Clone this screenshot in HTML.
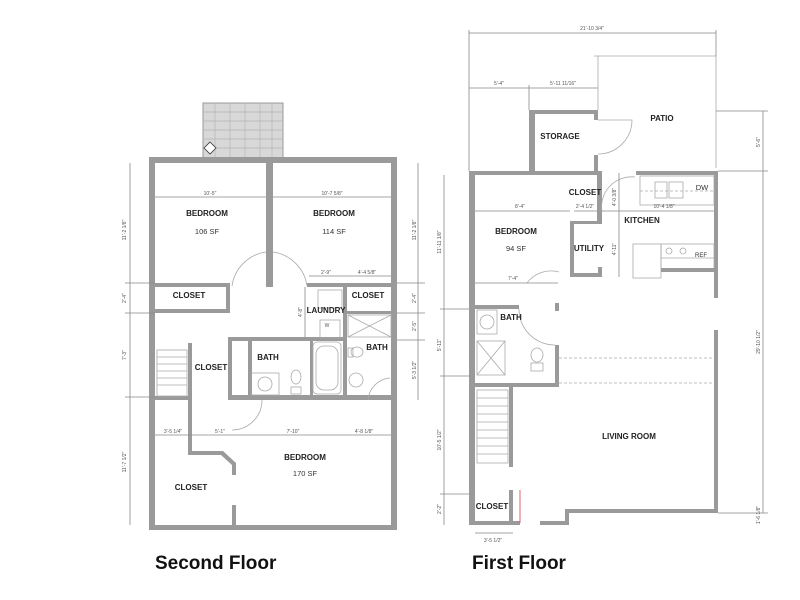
<!DOCTYPE html>
<html><head><style>
html,body{margin:0;padding:0;background:#fff;}
svg{display:block;}
.w{fill:#9a9a9a;}
.d{stroke:#888;stroke-width:0.8;fill:none;}
.t{font-family:"Liberation Sans",sans-serif;font-weight:bold;font-size:8px;fill:#222;text-anchor:middle;}
.s{font-family:"Liberation Sans",sans-serif;font-size:7.5px;fill:#333;text-anchor:middle;}
.m{font-family:"Liberation Sans",sans-serif;font-size:5px;fill:#555;text-anchor:middle;}
.th{stroke:#aaa;stroke-width:0.8;fill:none;}
</style></head><body>
<svg width="800" height="600" viewBox="0 0 800 600">
<!-- SECOND FLOOR -->
<rect x="203" y="103" width="80" height="57" fill="#d8d8d8" stroke="#999"/>
<g stroke="#b5b5b5" stroke-width="0.7">
<line x1="203" y1="112" x2="283" y2="112"/><line x1="203" y1="121" x2="283" y2="121"/><line x1="203" y1="130" x2="283" y2="130"/><line x1="203" y1="139" x2="283" y2="139"/><line x1="203" y1="148" x2="283" y2="148"/>
<line x1="215" y1="103" x2="215" y2="160"/><line x1="230" y1="103" x2="230" y2="160"/><line x1="245" y1="103" x2="245" y2="160"/><line x1="260" y1="103" x2="260" y2="160"/><line x1="272" y1="103" x2="272" y2="160"/>
</g>
<polygon points="210,142 216,148 210,154 204,148" fill="#fff" stroke="#333" stroke-width="0.8"/>
<rect class="w" x="149" y="157" width="248" height="6"/>
<rect class="w" x="149" y="157" width="6" height="373"/>
<rect class="w" x="391" y="157" width="6" height="373"/>
<rect class="w" x="149" y="525" width="248" height="5"/>
<rect class="w" x="266" y="160" width="7" height="127"/>
<rect class="w" x="155" y="283" width="75" height="4"/>
<rect class="w" x="155" y="309" width="75" height="4"/>
<rect class="w" x="226" y="283" width="4" height="30"/>
<rect class="w" x="307" y="283" width="90" height="4"/>
<rect class="w" x="343" y="283" width="4" height="117"/>
<rect class="w" x="347" y="311" width="44" height="3"/>
<rect class="w" x="228" y="337" width="119" height="4"/>
<rect class="w" x="228" y="337" width="4" height="63"/>
<rect class="w" x="248" y="337" width="4" height="63"/>
<rect class="w" x="310" y="341" width="3" height="57"/>
<rect class="w" x="228" y="395" width="169" height="5"/>
<rect class="w" x="188" y="343" width="4" height="57"/>
<rect class="w" x="155" y="396" width="37" height="4"/>
<rect class="w" x="188" y="400" width="4" height="55"/>
<polygon class="w" points="188,451 223,451 236,463 236,475 232,475 232,465 221,455 192,455"/>
<rect class="w" x="232" y="505" width="4" height="20"/>
<g class="th"><rect x="157" y="350" width="30" height="46"/><line x1="157" y1="357" x2="187" y2="357"/><line x1="157" y1="364" x2="187" y2="364"/><line x1="157" y1="371" x2="187" y2="371"/><line x1="157" y1="378" x2="187" y2="378"/><line x1="157" y1="385" x2="187" y2="385"/></g>
<path class="th" d="M232 286 A40 40 0 0 1 266 252"/><path class="th" d="M273 252 A40 40 0 0 1 307 286"/>
<path class="th" d="M232 430 A30 30 0 0 0 262 400"/>
<g class="th">
<rect x="251" y="373" width="28" height="22"/><circle cx="265" cy="384" r="7"/>
<ellipse cx="296" cy="377" rx="5" ry="7"/><rect x="291" y="387" width="10" height="7"/>
<rect x="313" y="342" width="28" height="52" rx="4"/><rect x="316" y="346" width="22" height="44" rx="8"/>
<rect x="318" y="290" width="24" height="18"/><rect x="320" y="320" width="20" height="18"/>
<rect x="348" y="315" width="43" height="22"/><line x1="348" y1="315" x2="391" y2="337"/><line x1="391" y1="315" x2="348" y2="337"/>
<ellipse cx="357" cy="352" rx="6" ry="5"/><rect x="348" y="348" width="5" height="9"/>
<circle cx="356" cy="380" r="7"/><path d="M368 400 A24 24 0 0 1 390 378"/>
</g>
<text class="m" x="327" y="327">W</text>
<g class="d">
<line x1="155" y1="197" x2="266" y2="197"/><line x1="273" y1="197" x2="391" y2="197"/>
<line x1="309" y1="276" x2="343" y2="276"/><line x1="343" y1="276" x2="391" y2="276"/>
<line x1="155" y1="435" x2="192" y2="435"/><line x1="192" y1="435" x2="250" y2="435"/><line x1="250" y1="435" x2="339" y2="435"/><line x1="339" y1="435" x2="391" y2="435"/>
<line x1="130" y1="163" x2="130" y2="525"/><line x1="125" y1="283" x2="155" y2="283"/><line x1="125" y1="313" x2="155" y2="313"/><line x1="125" y1="397" x2="155" y2="397"/>
<line x1="418" y1="163" x2="418" y2="400"/><line x1="397" y1="283" x2="425" y2="283"/><line x1="397" y1="313" x2="425" y2="313"/><line x1="397" y1="340" x2="425" y2="340"/>
<line x1="305" y1="287" x2="305" y2="337"/>
</g>
<text class="m" x="210" y="195">10'-5"</text><text class="m" x="332" y="195">10'-7 5/8"</text>
<text class="m" x="326" y="274">2'-9"</text><text class="m" x="367" y="274">4'-4 5/8"</text>
<text class="m" x="173" y="433">3'-5 1/4"</text><text class="m" x="220" y="433">5'-1"</text><text class="m" x="293" y="433">7'-10"</text><text class="m" x="364" y="433">4'-8 1/8"</text>
<text class="m" transform="translate(126,230) rotate(-90)">11'-2 1/8"</text>
<text class="m" transform="translate(126,298) rotate(-90)">2'-4"</text>
<text class="m" transform="translate(126,355) rotate(-90)">7'-3"</text>
<text class="m" transform="translate(126,462) rotate(-90)">11'-7 1/2"</text>
<text class="m" transform="translate(416,230) rotate(-90)">11'-2 1/8"</text>
<text class="m" transform="translate(416,298) rotate(-90)">2'-4"</text>
<text class="m" transform="translate(416,326) rotate(-90)">2'-5"</text>
<text class="m" transform="translate(416,370) rotate(-90)">5'-3 1/2"</text>
<text class="m" transform="translate(302,312) rotate(-90)">4'-8"</text>
<text class="t" x="207" y="216">BEDROOM</text><text class="s" x="207" y="234">106 SF</text>
<text class="t" x="334" y="216">BEDROOM</text><text class="s" x="334" y="234">114 SF</text>
<text class="t" x="189" y="298">CLOSET</text><text class="t" x="368" y="298">CLOSET</text>
<text class="t" x="326" y="313">LAUNDRY</text><text class="t" x="377" y="350">BATH</text>
<text class="t" x="268" y="360">BATH</text><text class="t" x="211" y="370">CLOSET</text>
<text class="t" x="305" y="460">BEDROOM</text><text class="s" x="305" y="476">170 SF</text>
<text class="t" x="191" y="490">CLOSET</text>

<!-- FIRST FLOOR -->
<g class="th"><line x1="594" y1="56" x2="716" y2="56"/><line x1="716" y1="56" x2="716" y2="168"/><line x1="598" y1="56" x2="598" y2="110"/></g>
<rect class="w" x="469" y="171" width="6" height="354"/>
<rect class="w" x="469" y="171" width="133" height="4"/>
<rect class="w" x="636" y="171" width="82" height="4"/>
<rect class="w" x="714" y="171" width="4" height="127"/>
<rect class="w" x="714" y="330" width="4" height="183"/>
<rect class="w" x="565" y="509" width="153" height="4"/>
<rect class="w" x="565" y="509" width="4" height="16"/>
<rect class="w" x="540" y="521" width="29" height="4"/>
<rect class="w" x="469" y="521" width="51" height="4"/>
<line x1="520" y1="490" x2="520" y2="523" stroke="#e06070" stroke-width="1"/>
<rect class="w" x="529" y="110" width="6" height="63"/>
<rect class="w" x="529" y="110" width="69" height="4"/>
<rect class="w" x="594" y="110" width="4" height="10"/>
<rect class="w" x="594" y="155" width="4" height="18"/>
<path class="th" d="M598 120 L632 120 A34 34 0 0 1 598 154"/>
<rect class="w" x="597" y="171" width="5" height="53"/>
<rect class="w" x="570" y="221" width="32" height="3"/>
<rect class="w" x="570" y="221" width="4" height="56"/>
<rect class="w" x="570" y="273" width="32" height="4"/>
<rect class="w" x="598" y="267" width="4" height="10"/>
<rect class="w" x="475" y="305" width="44" height="4"/>
<rect class="w" x="555" y="303" width="4" height="8"/>
<rect class="w" x="555" y="345" width="4" height="42"/>
<rect class="w" x="475" y="383" width="84" height="4"/>
<rect class="w" x="509" y="387" width="4" height="80"/>
<rect class="w" x="509" y="490" width="4" height="31"/>
<g class="th"><rect x="477" y="390" width="31" height="73"/><line x1="477" y1="398" x2="508" y2="398"/><line x1="477" y1="406" x2="508" y2="406"/><line x1="477" y1="414" x2="508" y2="414"/><line x1="477" y1="422" x2="508" y2="422"/><line x1="477" y1="430" x2="508" y2="430"/><line x1="477" y1="438" x2="508" y2="438"/><line x1="477" y1="446" x2="508" y2="446"/><line x1="477" y1="454" x2="508" y2="454"/></g>
<g class="th">
<circle cx="487" cy="322" r="7"/><rect x="477" y="310" width="20" height="24"/>
<rect x="477" y="341" width="28" height="34"/><line x1="477" y1="341" x2="505" y2="375"/><line x1="505" y1="341" x2="477" y2="375"/>
<ellipse cx="537" cy="355" rx="6" ry="7"/><rect x="531" y="363" width="12" height="8"/>
<path d="M519 309 A36 36 0 0 0 555 345"/>
<path d="M527 283 A30 30 0 0 1 559 272"/>
</g>
<g class="th">
<rect x="640" y="176" width="74" height="29"/>
<rect x="655" y="182" width="12" height="16"/><rect x="669" y="182" width="14" height="16"/>
<rect x="633" y="244" width="28" height="34"/>
<rect x="661" y="244" width="53" height="26"/><circle cx="669" cy="251" r="3"/><circle cx="683" cy="251" r="3"/>
<line x1="661" y1="258" x2="714" y2="258"/>
<path d="M602 212 A30 30 0 0 1 635 177"/>
</g>
<rect class="w" x="661" y="268" width="57" height="4"/>
<g class="th" stroke-dasharray="3,2"><line x1="559" y1="358" x2="714" y2="358"/><line x1="559" y1="383" x2="714" y2="383"/><line x1="640" y1="191" x2="714" y2="191"/></g>
<g class="d">
<line x1="469" y1="33" x2="716" y2="33"/><line x1="469" y1="30" x2="469" y2="171"/><line x1="716" y1="30" x2="716" y2="56"/>
<line x1="469" y1="88" x2="529" y2="88"/><line x1="529" y1="88" x2="598" y2="88"/><line x1="529" y1="85" x2="529" y2="110"/>
<line x1="763" y1="111" x2="763" y2="513"/><line x1="716" y1="111" x2="768" y2="111"/><line x1="718" y1="171" x2="768" y2="171"/><line x1="718" y1="513" x2="768" y2="513"/>
<line x1="475" y1="211" x2="570" y2="211"/><line x1="574" y1="211" x2="598" y2="211"/><line x1="602" y1="211" x2="714" y2="211"/>
<line x1="475" y1="283" x2="558" y2="283"/>
<line x1="619" y1="173" x2="619" y2="277"/>
<line x1="444" y1="175" x2="444" y2="525"/><line x1="440" y1="309" x2="469" y2="309"/><line x1="440" y1="376" x2="469" y2="376"/><line x1="440" y1="494" x2="469" y2="494"/>
<line x1="475" y1="533" x2="513" y2="533"/>
</g>
<text class="m" x="592" y="30">21'-10 3/4"</text>
<text class="m" x="499" y="85">5'-4"</text><text class="m" x="563" y="85">5'-11 11/16"</text>
<text class="m" x="520" y="208">8'-4"</text><text class="m" x="585" y="208">2'-4 1/2"</text><text class="m" x="664" y="208">10'-4 1/8"</text>
<text class="m" x="513" y="280">7'-4"</text><text class="m" x="493" y="542">3'-5 1/2"</text>
<text class="m" transform="translate(760,142) rotate(-90)">5'-6"</text>
<text class="m" transform="translate(760,342) rotate(-90)">29'-10 1/2"</text>
<text class="m" transform="translate(760,515) rotate(-90)">1'-6 1/8"</text>
<text class="m" transform="translate(616,197) rotate(-90)">4'-0 3/8"</text>
<text class="m" transform="translate(616,249) rotate(-90)">4'-11"</text>
<text class="m" transform="translate(441,242) rotate(-90)">11'-11 1/8"</text>
<text class="m" transform="translate(441,345) rotate(-90)">5'-11"</text>
<text class="m" transform="translate(441,440) rotate(-90)">10'-5 1/2"</text>
<text class="m" transform="translate(441,509) rotate(-90)">2'-2"</text>
<text class="t" x="560" y="139">STORAGE</text><text class="t" x="662" y="121">PATIO</text>
<text class="t" x="585" y="195">CLOSET</text><text class="s" x="702" y="190">DW</text>
<text class="t" x="642" y="223">KITCHEN</text>
<text class="t" x="516" y="234">BEDROOM</text><text class="s" x="516" y="251">94 SF</text>
<text class="t" x="589" y="251">UTILITY</text><text class="s" x="701" y="257" style="font-size:6px">REF</text>
<text class="t" x="511" y="320">BATH</text>
<text class="t" x="629" y="439">LIVING ROOM</text>
<text class="t" x="492" y="509">CLOSET</text>
<text x="155" y="569" style="font-family:'Liberation Sans',sans-serif;font-weight:bold;font-size:19px;fill:#111">Second Floor</text>
<text x="472" y="569" style="font-family:'Liberation Sans',sans-serif;font-weight:bold;font-size:19px;fill:#111">First Floor</text>
</svg>
</body></html>
